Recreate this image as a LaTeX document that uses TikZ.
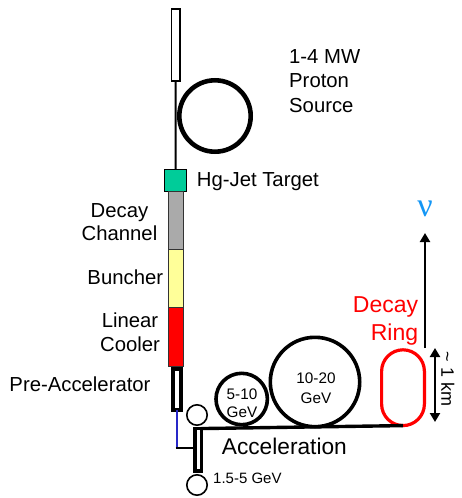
\documentclass[tikz,border=0pt]{standalone}
\usepackage{fontspec}
\setmainfont{Liberation Sans}
\newfontfamily\nufont{Liberation Serif}
\usetikzlibrary{arrows.meta}
\definecolor{tgtgreen}{RGB}{0,204,153}
\definecolor{dgray}{RGB}{170,170,170}
\definecolor{lyellow}{RGB}{255,255,153}
\definecolor{linkblue}{RGB}{40,40,200}
\definecolor{nublue}{RGB}{20,150,245}
\tikzset{
  box/.style={draw=black, inner sep=0pt, outer sep=0pt, rectangle},
  ring/.style={draw=black, circle, inner sep=0pt, outer sep=0pt},
  big/.style={font=\fontsize{20.3}{24.5}\selectfont, inner sep=0pt},
  small/.style={font=\fontsize{15.3}{17.7}\selectfont, inner sep=0pt},
  tip/.style={-{Triangle[width=10pt,length=9pt]}},
}
\begin{document}
\begin{tikzpicture}[x=1pt,y=-1pt]
\useasboundingbox (0,0) rectangle (461,498);
% top target line
\node[box, line width=1.6pt, minimum width=8.4pt, minimum height=72.4pt] (toprect) at (175.7,45) {};
\node[box, line width=1pt, fill=tgtgreen, minimum width=22pt, minimum height=22pt] (target) at (175.5,180.5) {};
\draw[line width=2pt] (toprect.south) -- (target.north);
\node[ring, line width=4.6pt, minimum size=71.4pt] (proton) at (215,116) {};
% channel blocks
\node[box, line width=0.8pt, draw=black!80, fill=dgray, minimum width=15pt, minimum height=58pt, anchor=north] (decay) at (target.south) {};
\node[box, line width=0.8pt, draw=black!80, fill=lyellow, minimum width=15pt, minimum height=58pt, anchor=north] (buncher) at (decay.south) {};
\node[box, line width=0.8pt, draw=black!80, fill=red, minimum width=15pt, minimum height=59pt, anchor=north] (cooler) at (buncher.south) {};
\node[box, line width=3.8pt, fill=white, minimum width=8.2pt, minimum height=41pt] (preacc) at (176.7,389.3) {};
% link
\coordinate (bend) at (176.7,448);
\node[box, line width=3.8pt, fill=white, minimum width=6.2pt, minimum height=42.5pt] (vrect) at (198.3,449.8) {};
\draw[linkblue, line width=1.8pt] (preacc.south) -- (bend);
\draw[line width=2.2pt] (175.7,448) -- (vrect.west |- bend);
\node[ring, line width=1.6pt, fill=white, minimum size=20.4pt] (sc1) at (197,415) {};
\node[ring, line width=1.6pt, fill=white, minimum size=20.4pt] (sc2) at (197,485) {};
% acceleration rings
\node[ring, line width=3.6pt, minimum size=51.4pt] (c510) at (241.7,399) {};
\node[ring, line width=3.6pt, minimum size=89.4pt] (c1020) at (315,382) {};
\node[draw=red, line width=3.2pt, rectangle, rounded corners=21.5pt, minimum width=42.8pt, minimum height=75.8pt, inner sep=0pt, outer sep=0pt] (dring) at (403,387.7) {};
\draw[line width=3.4pt] (vrect.north east) -- (dring.south);
% arrows
\coordinate (nutip) at (425,233);
\draw[line width=2.2pt, tip] (425,348) -- (nutip);
\coordinate (kmtop) at (435,348);
\coordinate (kmbot) at (435,422);
\draw[line width=2.2pt, {Triangle[width=10pt,length=9pt]}-{Triangle[width=10pt,length=9pt]}] (kmtop) -- (kmbot);
% texts
\node[big, anchor=west, align=left] (srclab) at (289,81) {1-4 MW\\Proton\\Source};
\node[big, anchor=west] (tgtlab) at (196.7,181.7) {Hg-Jet Target};
\node[big, align=center, font=\fontsize{20.3}{22.8}\selectfont] (declab) at (119.5,222) {Decay\\Channel};
\node[big] (bunlab) at (125.3,277.3) {Buncher};
\node[big, align=center, font=\fontsize{20.3}{23.3}\selectfont] (coolab) at (130,332.3) {Linear\\Cooler};
\node[big] (prelab) at (80,384) {Pre-Accelerator};
\node[inner sep=0pt, anchor=west, font=\fontsize{22.7}{26}\selectfont] (acclab) at (221.7,446.7) {Acceleration};
\node[inner sep=0pt, anchor=west, font=\fontsize{15}{17}\selectfont] (lowlab) at (213,478) {1.5-5 GeV};
\node[small, align=center] (l510) at (242,403) {5-10\\GeV};
\node[small, align=center, font=\fontsize{15.3}{20}\selectfont] (l1020) at (316,388) {10-20\\GeV};
\node[inner sep=0pt, text=red, align=right, font=\fontsize{23}{28}\selectfont, anchor=east] (ringlab) at (418.3,321) {Decay\\Ring};
\node[inner sep=0pt, text=nublue, font=\nufont\fontsize{34}{36}\selectfont] (nu) at (425,209) {ν};
\node[inner sep=0pt, rotate=-90, font=\fontsize{18}{20}\selectfont] (kmlab) at (448,379) {\textasciitilde\ 1 km};
\end{tikzpicture}
\end{document}
